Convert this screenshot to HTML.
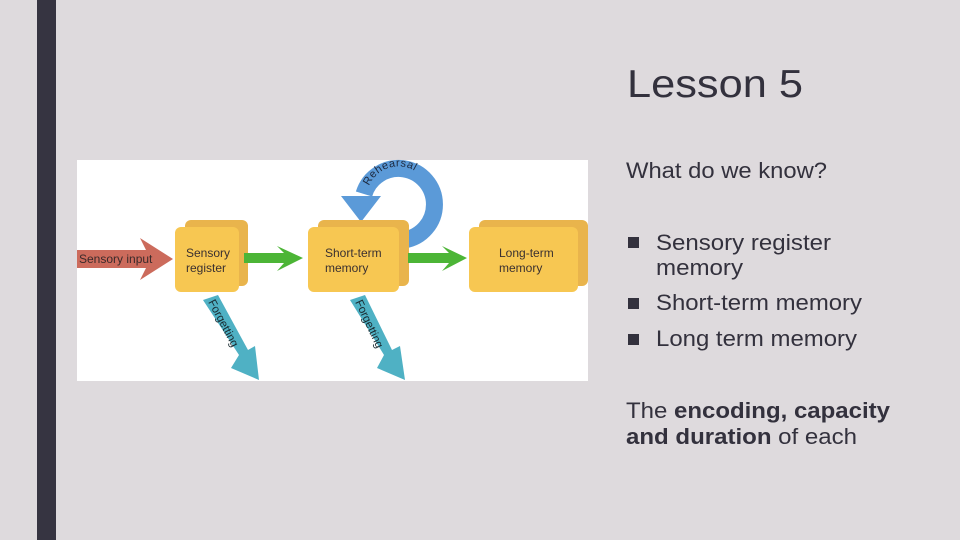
<!DOCTYPE html>
<html><head><meta charset="utf-8"><style>
html,body{margin:0;padding:0;background:#dedadd;}
svg{display:block;}
text{font-family:"Liberation Sans",sans-serif;}
</style></head><body>
<svg width="960" height="540" viewBox="0 0 960 540" xmlns="http://www.w3.org/2000/svg">
<rect width="960" height="540" fill="#dedadd"/>
<rect x="37" y="0" width="19" height="540" fill="#363441"/>
<rect x="77" y="160" width="511" height="221" fill="#ffffff"/>
<!-- rehearsal loop -->
<path d="M404,240 A36,36 0 1 0 364,194" fill="none" stroke="#5b9ad8" stroke-width="17"/>
<polygon points="341,196 381,196 361,222" fill="#5b9ad8"/>
<path id="rp" d="M369,186 A32,32 0 0 1 428,186" fill="none"/>
<text font-size="11" fill="#1e2a40" letter-spacing="0.5"><textPath href="#rp">Rehearsal</textPath></text>
<!-- boxes -->
<g fill="#e9b44c"><rect x="185" y="220" width="63" height="66" rx="6"/><rect x="318" y="220" width="91" height="66" rx="6"/><rect x="479" y="220" width="109" height="66" rx="6"/></g>
<g fill="#f7c752"><rect x="175" y="227" width="64" height="65" rx="6"/><rect x="308" y="227" width="91" height="65" rx="6"/><rect x="469" y="227" width="109" height="65" rx="6"/></g>
<!-- sensory input -->
<polygon points="77,250 146,250 140,238 173,259 140,280 146,268 77,268" fill="#cc6b5c"/>
<text x="79" y="263" font-size="12" fill="#3a2a2a">Sensory input</text>
<!-- green arrows -->
<polygon points="244,253 284,253 277,246 303,258 277,271 284,263 244,263" fill="#4cb536"/>
<polygon points="408,253 449,253 442,246 467,258 442,271 449,263 408,263" fill="#4cb536"/>
<!-- forgetting -->
<g fill="#4fb1c4">
<polygon points="203,300 218,295 248,350 255,346 259,380 231,368 239,355"/>
<polygon points="350,300 365,295 392,350 400,346 405,380 377,368 384,355"/>
</g>
<text font-size="11.5" fill="#1a2a30" transform="translate(208,302) rotate(62)">Forgetting</text>
<text font-size="11.5" fill="#1a2a30" transform="translate(355,302) rotate(65)">Forgetting</text>
<g font-size="12" fill="#3a3030">
<text x="186" y="257">Sensory</text><text x="186" y="272">register</text>
<text x="325" y="257">Short-term</text><text x="325" y="272">memory</text>
<text x="499" y="257">Long-term</text><text x="499" y="272">memory</text>
</g>
<!-- right text -->
<g fill="#33313d">
<text x="627" y="97" font-size="39" textLength="176" lengthAdjust="spacingAndGlyphs">Lesson 5</text>
<text x="626" y="178" font-size="22" textLength="201" lengthAdjust="spacingAndGlyphs">What do we know?</text>
<rect x="628" y="237" width="11" height="11"/><rect x="628" y="298" width="11" height="11"/><rect x="628" y="334" width="11" height="11"/>
<text x="656" y="250" font-size="22" textLength="175" lengthAdjust="spacingAndGlyphs">Sensory register</text>
<text x="656" y="275" font-size="22" textLength="87" lengthAdjust="spacingAndGlyphs">memory</text>
<text x="656" y="310" font-size="22" textLength="206" lengthAdjust="spacingAndGlyphs">Short-term memory</text>
<text x="656" y="346" font-size="22" textLength="201" lengthAdjust="spacingAndGlyphs">Long term memory</text>
<text x="626" y="418" font-size="22" textLength="264" lengthAdjust="spacingAndGlyphs">The <tspan font-weight="bold">encoding, capacity</tspan></text>
<text x="626" y="444" font-size="22" textLength="231" lengthAdjust="spacingAndGlyphs"><tspan font-weight="bold">and duration</tspan> of each</text>
</g>
</svg>
</body></html>
